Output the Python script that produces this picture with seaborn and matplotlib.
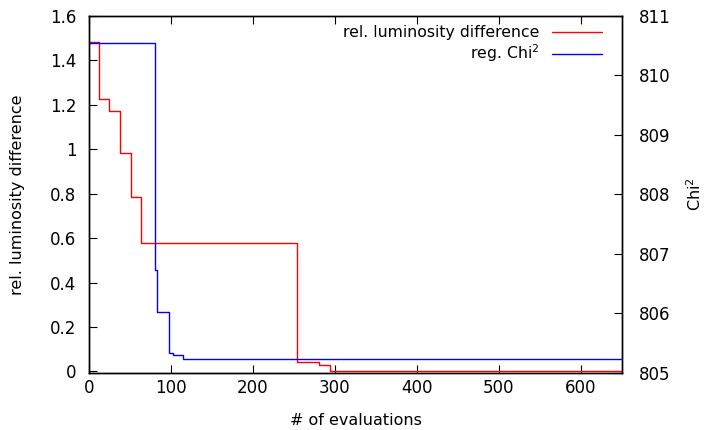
import pandas as pd
import seaborn as sns
import matplotlib.pyplot as plt
from matplotlib.ticker import FuncFormatter, MultipleLocator

# step data (x = # of evaluations)
lum_evals = [0, 12, 25, 38, 51, 64, 254, 281, 294, 650]
lum_diff = [1.482, 1.227, 1.172, 0.984, 0.783, 0.578, 0.042, 0.027, 0.002, 0.002]

chi_evals = [0, 80, 83, 97, 102, 115, 650]
chi2 = [810.546, 806.73, 806.03, 805.33, 805.30, 805.24, 805.24]

lum = pd.DataFrame({'evals': lum_evals, 'diff': lum_diff})
chi = pd.DataFrame({'evals': chi_evals, 'chi2': chi2})

sns.set_style("ticks")
plt.rcParams['font.family'] = ['DejaVu Sans']
plt.rcParams['text.color'] = 'black'
plt.rcParams['axes.labelcolor'] = 'black'
plt.rcParams['xtick.color'] = 'black'
plt.rcParams['ytick.color'] = 'black'

fig = plt.figure(figsize=(7.04, 4.30), dpi=100)
ax = fig.add_axes([0.1264, 0.1326, 0.7571, 0.8302])
ax2 = ax.twinx()

sns.lineplot(data=lum, x='evals', y='diff', ax=ax, color='red', lw=1,
             drawstyle='steps-post', label='rel. luminosity difference', legend=False)
sns.lineplot(data=chi, x='evals', y='chi2', ax=ax2, color='blue', lw=1,
             drawstyle='steps-post', label='reg. Chi$^2$', legend=False)

ax.set_xlim(0, 650)
ax.set_ylim(-0.007, 1.6)
ax2.set_ylim(805, 811)

fmt = FuncFormatter(lambda v, p: '%g' % round(v, 3))
ax.xaxis.set_major_locator(MultipleLocator(100))
ax.yaxis.set_major_locator(MultipleLocator(0.2))
ax.yaxis.set_major_formatter(fmt)
ax2.yaxis.set_major_locator(MultipleLocator(1))

ax.tick_params(axis='x', direction='in', top=True, length=6, labelsize=12, pad=4)
ax.tick_params(axis='y', direction='in', length=6, labelsize=12, pad=9)
ax2.tick_params(axis='y', direction='in', length=6, labelsize=12, pad=12)

for a in (ax, ax2):
    for s in a.spines.values():
        s.set_linewidth(1)
        s.set_color('black')

ax.set_xlabel('# of evaluations', fontsize=11.5)
ax.set_ylabel('rel. luminosity difference', fontsize=11.5)
ax2.set_ylabel('Chi$^2$', fontsize=11.5)
ax.xaxis.set_label_coords(0.5, -0.113)
ax.yaxis.set_label_coords(-0.12, 0.5)
ax2.yaxis.set_label_coords(1.119, 0.5)

h1, l1 = ax.get_legend_handles_labels()
h2, l2 = ax2.get_legend_handles_labels()
ax2.legend(h1 + h2, l1 + l2, loc='upper right', bbox_to_anchor=(0.981, 1.0),
           frameon=False, markerfirst=False, fontsize=11.3, handlelength=3.2,
           borderaxespad=0.2, labelspacing=0.15)

plt.savefig('out.png', dpi=100)
